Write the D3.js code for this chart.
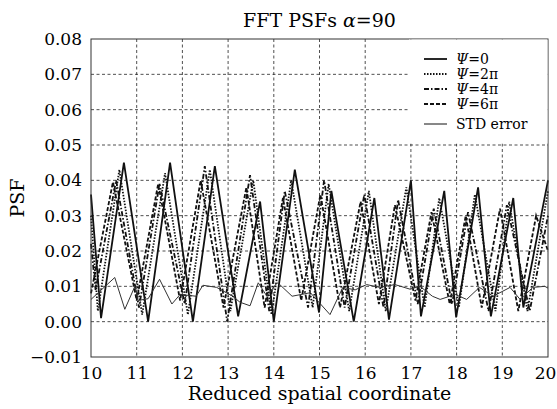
<!DOCTYPE html>
<html>
<head>
<meta charset="utf-8">
<script src="https://cdn.jsdelivr.net/npm/d3@7"></script>
<style>
body { margin: 0; background: #fff; }
text { font-family: "DejaVu Serif", serif; fill: #000; }
</style>
</head>
<body>
<div id="chart"></div>
<script>
// values
var xTicks = [10, 11, 12, 13, 14, 15, 16, 17, 18, 19, 20];
var yTicks = [-0.01, 0.00, 0.01, 0.02, 0.03, 0.04, 0.05, 0.06, 0.07, 0.08];

var psi0X = [10.0, 10.22, 10.72, 11.25, 11.73, 12.23, 12.71, 13.22, 13.70, 14.00, 14.46, 14.99, 15.26, 15.75, 16.20, 16.52, 17.00, 17.22, 17.73, 17.99, 18.47, 18.75, 19.24, 19.46, 20.0];
var psi0Y = [0.036, 0.001, 0.045, 0.000, 0.045, 0.000, 0.044, 0.0015, 0.034, 0.000, 0.043, 0.0026, 0.037, 0.000, 0.035, 0.0006, 0.040, 0.0015, 0.037, 0.0012, 0.038, 0.0015, 0.035, 0.004, 0.040];

var psi2X = [10.0, 10.15, 10.62, 11.12, 11.62, 12.12, 12.60, 13.05, 13.55, 13.95, 14.38, 14.85, 15.20, 15.65, 16.08, 16.45, 16.90, 17.30, 17.62, 18.05, 18.40, 18.85, 19.15, 19.55, 20.0];
var psi2Y = [0.030, 0.003, 0.043, 0.002, 0.042, 0.002, 0.043, 0.003, 0.040, 0.002, 0.040, 0.004, 0.039, 0.003, 0.037, 0.003, 0.038, 0.004, 0.035, 0.004, 0.036, 0.003, 0.034, 0.003, 0.037];

var psi4X = [10.0, 10.10, 10.55, 11.05, 11.50, 12.05, 12.49, 12.98, 13.48, 13.90, 14.24, 14.75, 15.10, 15.55, 15.98, 16.40, 16.72, 17.15, 17.50, 17.90, 18.25, 18.70, 19.10, 19.60, 20.0];
var psi4Y = [0.022, 0.009, 0.040, 0.004, 0.039, 0.005, 0.044, 0.000, 0.0415, 0.003, 0.037, 0.004, 0.040, 0.004, 0.036, 0.004, 0.0345, 0.005, 0.032, 0.005, 0.031, 0.003, 0.033, 0.003, 0.030];

var psi6X = [10.0, 10.48, 11.00, 11.47, 11.95, 12.40, 12.90, 13.40, 13.80, 14.20, 14.60, 15.02, 15.45, 15.90, 16.30, 16.65, 17.10, 17.45, 17.85, 18.20, 18.55, 18.95, 19.35, 19.74, 20.0];
var psi6Y = [0.008, 0.0395, 0.006, 0.039, 0.006, 0.040, 0.004, 0.038, 0.004, 0.035, 0.006, 0.036, 0.004, 0.034, 0.005, 0.033, 0.006, 0.031, 0.005, 0.030, 0.004, 0.032, 0.003, 0.030, 0.020];

var stdX = [10.0, 10.52, 10.74, 10.96, 11.03, 11.25, 11.5, 11.77, 11.95, 12.3, 12.45, 12.75, 13.1, 13.26, 13.48, 13.66, 13.85, 14.07, 14.13, 14.4, 14.8, 15.23, 15.51, 15.78, 16.03, 16.32, 16.65, 16.98, 17.2, 17.47, 17.64, 17.97, 18.22, 18.5, 18.8, 19.17, 19.39, 19.67, 19.93, 20.0];
var stdY = [0.0063, 0.0125, 0.0035, 0.010, 0.006, 0.0065, 0.012, 0.005, 0.0077, 0.0072, 0.0103, 0.0097, 0.0072, 0.0055, 0.0045, 0.011, 0.0072, 0.011, 0.0105, 0.0072, 0.0082, 0.002, 0.0097, 0.009, 0.0105, 0.0097, 0.0105, 0.0092, 0.010, 0.0072, 0.0063, 0.0077, 0.0063, 0.0097, 0.0072, 0.0097, 0.0063, 0.0097, 0.010, 0.0095];

var seriesNames = ["\u03A8=0", "\u03A8=2\u03C0", "\u03A8=4\u03C0", "\u03A8=6\u03C0", "STD error"];

var width = 557;
var height = 409;
var pLeft = 91, pRight = 548, pTop = 39, pBottom = 357;

var svg = d3.select("#chart")
  .append("svg")
  .attr("width", width)
  .attr("height", height);

var xScale = d3.scaleLinear().domain([10, 20]).range([pLeft, pRight]);
var yScale = d3.scaleLinear().domain([-0.01, 0.08]).range([pBottom, pTop]);

// grid
var grid = svg.append("g")
  .attr("stroke", "#222")
  .attr("stroke-width", 0.8)
  .attr("stroke-dasharray", "3,2.5");

grid.selectAll("line.vx")
  .data(xTicks.slice(1, -1))
  .enter()
  .append("line")
  .attr("x1", function(d) { return xScale(d); })
  .attr("x2", function(d) { return xScale(d); })
  .attr("y1", pTop)
  .attr("y2", pBottom);

grid.selectAll("line.hy")
  .data(yTicks.slice(1, -1))
  .enter()
  .append("line")
  .attr("x1", pLeft)
  .attr("x2", pRight)
  .attr("y1", function(d) { return yScale(d); })
  .attr("y2", function(d) { return yScale(d); });

// axes (labels only)
var xAxis = d3.axisBottom(xScale)
  .tickValues(xTicks)
  .tickSize(0)
  .tickPadding(10)
  .tickFormat(d3.format("d"));

var yAxis = d3.axisLeft(yScale)
  .tickValues(yTicks)
  .tickSize(0)
  .tickPadding(9)
  .tickFormat(function(d) { return d3.format(".2f")(d).replace("-", "\u2212"); });

svg.append("g")
  .attr("transform", "translate(0," + pBottom + ")")
  .call(xAxis)
  .call(function(g) { g.select(".domain").remove(); })
  .selectAll("text")
  .style("font-size", "17px")
  .style("font-family", "DejaVu Serif")
  .attr("dx", function(d) { return d === 20 ? -3 : 0; });

svg.append("g")
  .attr("transform", "translate(" + pLeft + ",0)")
  .call(yAxis)
  .call(function(g) { g.select(".domain").remove(); })
  .selectAll("text")
  .style("font-size", "17px")
  .style("font-family", "DejaVu Serif");

function pts(xs, ys) {
  return xs.map(function(x, i) { return [x, ys[i]]; });
}

var line = d3.line()
  .x(function(d) { return xScale(d[0]); })
  .y(function(d) { return yScale(d[1]); });

var series = [
  { data: pts(psi0X, psi0Y), dash: null, w: 1.8 },
  { data: pts(psi2X, psi2Y), dash: "1.5,1.5", w: 1.8 },
  { data: pts(psi4X, psi4Y), dash: "5,2,1.5,2", w: 1.8 },
  { data: pts(psi6X, psi6Y), dash: "4,2", w: 1.8 }
];

var plot = svg.append("g");

plot.selectAll("path.psf")
  .data(series)
  .enter()
  .append("path")
  .attr("class", "psf")
  .attr("d", function(d) { return line(d.data); })
  .attr("fill", "none")
  .attr("stroke", "#111")
  .attr("stroke-width", function(d) { return d.w; })
  .attr("stroke-dasharray", function(d) { return d.dash; });

plot.append("path")
  .attr("d", line(pts(stdX, stdY)))
  .attr("fill", "none")
  .attr("stroke", "#333")
  .attr("stroke-width", 1);

// frame
svg.append("rect")
  .attr("x", pLeft)
  .attr("y", pTop)
  .attr("width", pRight - pLeft)
  .attr("height", pBottom - pTop)
  .attr("fill", "none")
  .attr("stroke", "#333")
  .attr("stroke-width", 1);

// legend
var legend = svg.append("g");
legend.append("rect")
  .attr("x", 409)
  .attr("y", pTop + 0.5)
  .attr("width", pRight - 409 - 0.5)
  .attr("height", 104)
  .attr("fill", "#fff");

var legRows = [59, 74, 89, 104, 124];
var legDash = [null, "1.5,1.5", "5,2,1.5,2", "4,2", null];
var legW = [1.8, 1.8, 1.8, 1.8, 1];

seriesNames.forEach(function(name, i) {
  legend.append("line")
    .attr("x1", 424).attr("x2", 447)
    .attr("y1", legRows[i]).attr("y2", legRows[i])
    .attr("stroke", "#111")
    .attr("stroke-width", legW[i])
    .attr("stroke-dasharray", legDash[i]);
  var t = legend.append("text")
    .attr("x", 456)
    .attr("y", legRows[i] + 5)
    .style("font-size", "14px");
  if (i < 4) {
    t.append("tspan").style("font-style", "italic").text("\u03A8");
    t.append("tspan").text(name.slice(1));
  } else {
    t.text(name);
  }
});

// title and axis labels
var title = svg.append("text")
  .attr("x", (pLeft + pRight) / 2)
  .attr("y", 27)
  .attr("text-anchor", "middle")
  .style("font-size", "19px");
title.append("tspan").text("FFT PSFs ");
title.append("tspan").style("font-style", "italic").text("\u03B1");
title.append("tspan").text("=90");

svg.append("text")
  .attr("x", (pLeft + pRight) / 2)
  .attr("y", 400)
  .attr("text-anchor", "middle")
  .style("font-size", "19px")
  .text("Reduced spatial coordinate");

svg.append("text")
  .attr("transform", "translate(24," + (pTop + pBottom) / 2 + ")rotate(-90)")
  .attr("text-anchor", "middle")
  .style("font-size", "19px")
  .text("PSF");
</script>
</body>
</html>
